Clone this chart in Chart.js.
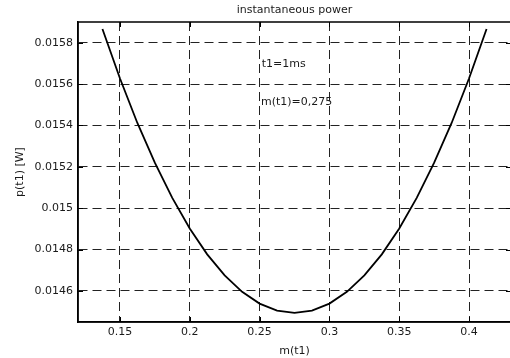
<!DOCTYPE html>
<html>
<head>
<meta charset="utf-8">
<script src="https://cdn.jsdelivr.net/npm/chart.js@4/dist/chart.umd.min.js"></script>
<style>
  html, body { margin: 0; padding: 0; background: #fff; overflow: hidden; }
  #wrap { width: 510px; height: 358px; overflow: hidden; }
  canvas { display: block; }
</style>
</head>
<body>
<div id="wrap"><canvas id="c" width="520" height="358"></canvas></div>
<script>
// ---- data ----
const mValues = [0.1375, 0.15, 0.1625, 0.175, 0.1875, 0.2, 0.2125, 0.225, 0.2375, 0.25, 0.2625, 0.275,
                 0.2875, 0.3, 0.3125, 0.325, 0.3375, 0.35, 0.3625, 0.375, 0.3875, 0.4, 0.4125];
const pValues = [0.015866, 0.015628, 0.015412, 0.015220, 0.015050, 0.014902, 0.014777, 0.014675, 0.014596,
                 0.014539, 0.014505, 0.014494, 0.014505, 0.014539, 0.014596, 0.014675, 0.014777, 0.014902,
                 0.015050, 0.015220, 0.015412, 0.015628, 0.015866];
const xTickValues = [0.15, 0.2, 0.25, 0.3, 0.35, 0.4];
const xTickLabels = ['0.15', '0.2', '0.25', '0.3', '0.35', '0.4'];
const yTickValues = [0.0146, 0.0148, 0.015, 0.0152, 0.0154, 0.0156, 0.0158];
const yTickLabels = ['0.0146', '0.0148', '0.015', '0.0152', '0.0154', '0.0156', '0.0158'];
const titleText = 'instantaneous power';
const xTitle = 'm(t1)';
const yTitle = 'p(t1) [W]';
const notes = [
  { text: 't1=1ms', x: 0.2515, y: 0.015697 },
  { text: 'm(t1)=0,275', x: 0.2510, y: 0.015513 }
];

const FONT = "'DejaVu Sans', sans-serif";
const INK = '#1a1a1a';

const boxPlugin = {
  id: 'box',
  afterDraw(chart) {
    const { ctx, chartArea: a, scales } = chart;
    ctx.save();
    ctx.strokeStyle = '#000';
    ctx.lineWidth = 1.5;
    ctx.strokeRect(a.left, a.top, a.right - a.left, a.bottom - a.top);
    // inward tick marks
    ctx.lineWidth = 1;
    const tl = 5;
    ctx.beginPath();
    xTickValues.forEach(v => {
      const x = Math.round(scales.x.getPixelForValue(v)) + 0.5;
      ctx.moveTo(x, a.bottom); ctx.lineTo(x, a.bottom - tl);
      ctx.moveTo(x, a.top); ctx.lineTo(x, a.top + tl);
    });
    yTickValues.forEach(v => {
      const y = Math.round(scales.y.getPixelForValue(v)) + 0.5;
      ctx.moveTo(a.left, y); ctx.lineTo(a.left + tl, y);
      ctx.moveTo(a.right, y); ctx.lineTo(a.right - tl, y);
    });
    ctx.stroke();
    ctx.fillStyle = INK;
    // title centred over the plot area
    ctx.font = "11px " + FONT;
    ctx.textAlign = 'center';
    ctx.textBaseline = 'middle';
    ctx.fillText(titleText, (a.left + a.right) / 2, 10);
    // annotations
    ctx.textAlign = 'left';
    notes.forEach(n => {
      ctx.fillText(n.text, scales.x.getPixelForValue(n.x), scales.y.getPixelForValue(n.y));
    });
    ctx.restore();
  }
};

new Chart(document.getElementById('c'), {
  type: 'line',
  data: {
    datasets: [{
      data: mValues.map((m, i) => ({ x: m, y: pValues[i] })),
      borderColor: '#000',
      borderWidth: 1.8,
      pointRadius: 0,
      tension: 0,
      fill: false
    }]
  },
  options: {
    responsive: false,
    animation: false,
    devicePixelRatio: 1,
    layout: { padding: { left: 0, right: 9, top: 22, bottom: 0 } },
    plugins: {
      legend: { display: false },
      tooltip: { enabled: false },
      title: { display: false }
    },
    scales: {
      x: {
        type: 'linear',
        min: 0.12,
        max: 0.43,
        afterBuildTicks: s => { s.ticks = xTickValues.map(v => ({ value: v })); },
        afterFit: s => { s.height = 36; },
        ticks: {
          color: INK,
          font: { family: FONT, size: 11 },
          padding: 4,
          maxRotation: 0,
          autoSkip: false,
          callback: (v, i) => xTickLabels[i]
        },
        grid: { color: '#222', lineWidth: 1, drawTicks: false },
        border: { display: true, color: '#000', width: 1.5, dash: [9, 5] },
        title: {
          display: true,
          text: xTitle,
          color: INK,
          font: { family: FONT, size: 11, lineHeight: 1.2 },
          padding: { top: 8, bottom: 0 }
        }
      },
      y: {
        type: 'linear',
        min: 0.01445,
        max: 0.0159,
        afterBuildTicks: s => { s.ticks = yTickValues.map(v => ({ value: v })); },
        afterFit: s => { s.width = 78; },
        ticks: {
          color: INK,
          font: { family: FONT, size: 11 },
          padding: 5,
          autoSkip: false,
          callback: (v, i) => yTickLabels[i]
        },
        grid: { color: '#222', lineWidth: 1, drawTicks: false },
        border: { display: true, color: '#000', width: 1.5, dash: [9, 5] },
        title: {
          display: true,
          text: yTitle,
          color: INK,
          font: { family: FONT, size: 11, lineHeight: 1.2 },
          padding: { top: 14, bottom: 0 }
        }
      }
    }
  },
  plugins: [boxPlugin]
});
</script>
</body>
</html>
